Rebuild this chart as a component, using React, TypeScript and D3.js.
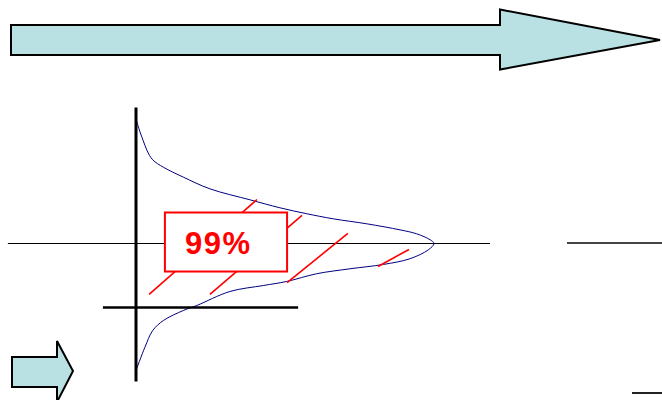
import React from "react";
import * as d3 from "d3";

const W = 662;
const H = 400;

// Distribution curve (x = relative density, y = standardized value)
const curveX = [0.001, 0.013, 0.024, 0.037, 0.056, 0.092, 0.159, 0.248, 0.383, 0.483, 0.573, 0.662, 0.774, 0.886, 0.942, 0.987, 1.0, 0.981, 0.919, 0.83, 0.718, 0.606, 0.506, 0.427, 0.315, 0.204, 0.159, 0.092, 0.056, 0.03, 0.0];
const curveY = [0.996, 0.903, 0.831, 0.75, 0.675, 0.615, 0.535, 0.441, 0.352, 0.288, 0.24, 0.199, 0.159, 0.11, 0.078, 0.03, 0, -0.051, -0.123, -0.169, -0.204, -0.244, -0.306, -0.339, -0.387, -0.5, -0.54, -0.621, -0.702, -0.836, -1.024];

// Hatch lines inside the area
const hatchX1 = [0.044, 0.248, 0.507, 0.812];
const hatchY1 = [-0.411, -0.411, -0.315, -0.185];
const hatchX2 = [0.406, 0.557, 0.711, 0.916];
const hatchY2 = [0.355, 0.226, 0.081, -0.048];

const label = "99%";
const boxX = [0.097, 0.507];
const boxY = [0.25, -0.226];

export default function App() {
  React.useEffect(() => {
    document.body.style.margin = "0";
  }, []);

  const x = d3.scaleLinear().domain([0, 1]).range([136, 434]);
  const y = d3.scaleLinear().domain([-1, 1]).range([367.5, 119.5]);

  const pts: [number, number][] = curveX.map((v, i) => [v, curveY[i]]);
  const line = d3
    .line<[number, number]>()
    .x((d) => x(d[0]))
    .y((d) => y(d[1]))
    .curve(d3.curveCatmullRom.alpha(0.5));

  const arrow = (x0: number, yTop: number, yBot: number, xh: number, hTop: number, hBot: number, xt: number, yt: number) =>
    `M${x0},${yTop}L${xh},${yTop}L${xh},${hTop}L${xt},${yt}L${xh},${hBot}L${xh},${yBot}L${x0},${yBot}Z`;

  const fill = "#B9E0E3";

  return (
    <svg width={W} height={H} style={{ display: "block", position: "absolute", left: 0, top: 0 }}>
      <rect width={W} height={H} fill="#fff" />
      {/* top arrow */}
      <path d={arrow(11, 25, 55, 500, 9.5, 69.5, 660, 40)} fill={fill} stroke="#000" strokeWidth={2} strokeLinejoin="miter" />
      {/* bottom-left arrow */}
      <path d={arrow(12, 357, 387, 57, 341, 402, 73, 371)} fill={fill} stroke="#000" strokeWidth={2} />

      {/* thin horizontal center line */}
      <line x1={x(-0.43)} x2={x(1.188)} y1={y(0)} y2={y(0)} stroke="#000" strokeWidth={1} />
      {/* right segments */}
      <line x1={567} x2={662} y1={243} y2={243} stroke="#444" strokeWidth={2} />
      <line x1={632} x2={662} y1={393} y2={393} stroke="#222" strokeWidth={2} />

      {/* curve */}
      <path d={line(pts) || ""} fill="none" stroke="#000080" strokeWidth={1} />

      {/* hatch lines */}
      {hatchX1.map((v, i) => (
        <line key={i} x1={x(v)} y1={y(hatchY1[i])} x2={x(hatchX2[i])} y2={y(hatchY2[i])} stroke="#FF0000" strokeWidth={1.6} />
      ))}

      {/* axes */}
      <line x1={x(0)} x2={x(0)} y1={y(1.097)} y2={y(-1.113)} stroke="#000" strokeWidth={3} />
      <line x1={x(-0.111)} x2={x(0.544)} y1={y(-0.516)} y2={y(-0.516)} stroke="#000" strokeWidth={2.5} />

      {/* label box */}
      <rect
        x={x(boxX[0])}
        y={y(boxY[0])}
        width={x(boxX[1]) - x(boxX[0])}
        height={y(boxY[1]) - y(boxY[0])}
        fill="#fff"
        stroke="#FF0000"
        strokeWidth={2}
      />
      <text x={185} y={254} fill="#FF0000" fontFamily="'Liberation Sans', Arial, sans-serif" fontWeight="bold" fontSize={31} letterSpacing={1.5}>
        {label}
      </text>
    </svg>
  );
}
